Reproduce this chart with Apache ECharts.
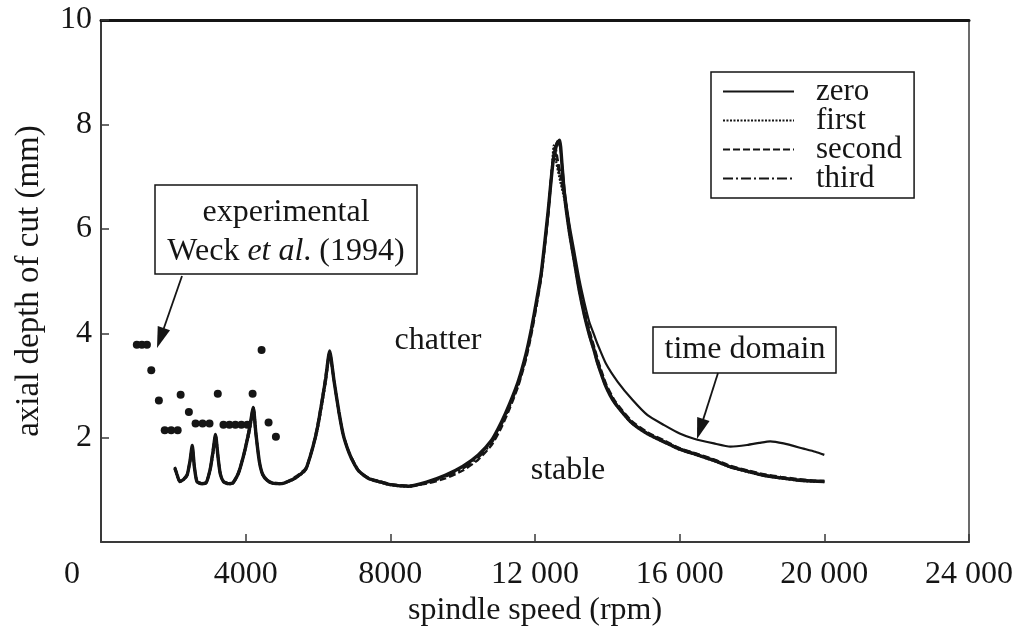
<!DOCTYPE html>
<html>
<head>
<meta charset="utf-8">
<script src="https://cdn.jsdelivr.net/npm/echarts@6/dist/echarts.min.js"></script>
<style>
html,body{margin:0;padding:0;background:#fff;}
#chart{width:1016px;height:632px;}
</style>
</head>
<body>
<div id="chart"></div>
<script>
// ---------- data ----------
var xTicks = [0, 4000, 8000, 12000, 16000, 20000, 24000];
var yTicks = [0, 2, 4, 6, 8, 10];
var seriesNames = ['zero', 'first', 'second', 'third'];

var zeroOrder = [
  [2040,1.42],[2100,1.30],[2175,1.16],[2280,1.20],[2380,1.28],[2460,1.55],[2523,1.85],[2580,1.45],[2652,1.16],
  [2780,1.12],[2909,1.14],[3020,1.40],[3100,1.75],[3165,2.06],[3240,1.60],[3300,1.30],[3386,1.16],[3520,1.12],
  [3643,1.13],[3800,1.32],[3950,1.68],[4100,2.15],[4211,2.58],[4280,2.10],[4377,1.55],[4468,1.30],[4600,1.18],
  [4744,1.13],[5000,1.12],[5202,1.17],[5400,1.24],[5662,1.40],[5850,1.80],[5982,2.18],[6100,2.65],[6212,3.13],
  [6322,3.66],[6441,3.10],[6579,2.49],[6700,2.05],[6854,1.72],[7000,1.50],[7129,1.36],[7400,1.22],[7680,1.16],
  [8000,1.10],[8505,1.07],[9000,1.15],[9516,1.28],[10000,1.45],[10432,1.67],[10800,1.95],[11074,2.30],[11300,2.65],
  [11533,3.07],[11750,3.60],[11900,4.08],[12050,4.65],[12175,5.17],[12359,6.31],[12497,7.27],[12600,7.62],[12680,7.70],
  [12750,7.20],[12818,6.63],[12950,5.95],[13093,5.36],[13230,4.80],[13369,4.34],[13500,3.98],[13644,3.65],[13736,3.42],
  [13950,3.00],[14195,2.68],[14653,2.30],[15100,2.08],[15571,1.92],[16000,1.78],[16488,1.67],[17000,1.55],[17405,1.44],
  [17900,1.35],[18323,1.28],[18800,1.23],[19240,1.19],[19650,1.17],[20000,1.16]
];
var firstOrder = [
  [2040,1.40],[2100,1.28],[2175,1.15],[2280,1.19],[2380,1.27],[2460,1.52],[2530,1.80],[2590,1.42],[2660,1.15],
  [2780,1.11],[2909,1.13],[3020,1.38],[3110,1.72],[3175,2.02],[3250,1.58],[3310,1.28],[3390,1.15],[3520,1.11],
  [3643,1.12],[3800,1.30],[3950,1.65],[4110,2.12],[4225,2.55],[4290,2.06],[4385,1.52],[4475,1.28],[4600,1.17],
  [4744,1.12],[5000,1.11],[5202,1.16],[5400,1.23],[5662,1.38],[5850,1.78],[5990,2.16],[6110,2.62],[6222,3.10],
  [6330,3.62],[6450,3.06],[6585,2.46],[6705,2.03],[6860,1.70],[7000,1.49],[7129,1.35],[7400,1.21],[7680,1.15],
  [8000,1.09],[8505,1.06],[9000,1.14],[9516,1.27],[10000,1.44],[10432,1.66],[10800,1.94],[11074,2.28],[11300,2.63],
  [11533,3.05],[11750,3.58],[11900,4.05],[12050,4.62],[12175,5.14],[12359,6.28],[12460,7.10],[12520,7.60],[12580,7.30],
  [12700,6.90],[12818,6.55],[12950,5.90],[13093,5.32],[13230,4.78],[13369,4.32],[13500,3.96],[13644,3.63],[13736,3.40],
  [13950,2.99],[14195,2.67],[14653,2.29],[15100,2.07],[15571,1.91],[16000,1.77],[16488,1.66],[17000,1.54],[17405,1.43],
  [17900,1.34],[18323,1.27],[18800,1.22],[19240,1.18],[19650,1.16],[20000,1.15]
];
var secondOrder = [
  [2040,1.44],[2100,1.31],[2175,1.17],[2280,1.21],[2380,1.30],[2460,1.57],[2520,1.82],[2575,1.46],[2645,1.17],
  [2780,1.13],[2909,1.15],[3020,1.42],[3095,1.77],[3160,2.04],[3235,1.62],[3295,1.31],[3380,1.17],[3520,1.13],
  [3643,1.14],[3800,1.34],[3950,1.70],[4095,2.17],[4200,2.55],[4270,2.12],[4370,1.57],[4460,1.31],[4600,1.19],
  [4744,1.14],[5000,1.13],[5202,1.18],[5400,1.26],[5662,1.42],[5850,1.82],[5975,2.20],[6095,2.67],[6205,3.15],
  [6315,3.62],[6435,3.12],[6572,2.51],[6695,2.07],[6848,1.74],[7000,1.52],[7129,1.37],[7400,1.23],[7680,1.17],
  [8000,1.11],[8505,1.08],[9000,1.12],[9516,1.22],[10000,1.37],[10432,1.58],[10800,1.86],[11074,2.20],[11300,2.56],
  [11533,2.98],[11750,3.50],[11900,3.98],[12050,4.55],[12175,5.08],[12359,6.22],[12480,7.20],[12560,7.58],[12620,7.35],
  [12720,7.00],[12840,6.55],[12980,5.90],[13120,5.33],[13260,4.80],[13400,4.35],[13530,3.99],[13670,3.66],[13760,3.44],
  [13970,3.02],[14215,2.70],[14670,2.32],[15120,2.10],[15590,1.94],[16000,1.80],[16488,1.69],[17000,1.57],[17405,1.46],
  [17900,1.37],[18323,1.30],[18800,1.25],[19240,1.21],[19650,1.18],[20000,1.17]
];
var thirdOrder = [
  [2040,1.41],[2100,1.29],[2175,1.16],[2280,1.20],[2380,1.28],[2460,1.54],[2525,1.84],[2585,1.44],[2655,1.16],
  [2780,1.12],[2909,1.14],[3020,1.39],[3105,1.74],[3170,2.05],[3245,1.59],[3305,1.29],[3388,1.16],[3520,1.12],
  [3643,1.13],[3800,1.31],[3950,1.67],[4105,2.14],[4218,2.57],[4285,2.08],[4380,1.54],[4470,1.29],[4600,1.18],
  [4744,1.13],[5000,1.12],[5202,1.17],[5400,1.24],[5662,1.39],[5850,1.79],[5985,2.17],[6105,2.64],[6217,3.12],
  [6326,3.64],[6445,3.08],[6582,2.47],[6702,2.04],[6857,1.71],[7000,1.50],[7129,1.36],[7400,1.22],[7680,1.16],
  [8000,1.10],[8505,1.07],[9000,1.13],[9516,1.25],[10000,1.41],[10432,1.62],[10800,1.90],[11074,2.25],[11300,2.60],
  [11533,3.02],[11750,3.55],[11900,4.03],[12050,4.60],[12175,5.12],[12359,6.26],[12470,7.15],[12540,7.55],[12600,7.32],
  [12710,6.95],[12830,6.58],[12965,5.92],[13105,5.34],[13245,4.79],[13385,4.33],[13515,3.97],[13657,3.64],[13748,3.42],
  [13960,3.00],[14205,2.68],[14660,2.30],[15110,2.08],[15580,1.92],[16000,1.79],[16488,1.67],[17000,1.55],[17405,1.44],
  [17900,1.35],[18323,1.28],[18800,1.23],[19240,1.19],[19650,1.17],[20000,1.16]
];
var timeDomain = [
  [11533,3.00],[11750,3.55],[11900,4.05],[12175,5.15],[12359,6.30],[12500,7.30],[12620,7.68],[12700,7.55],
  [12818,6.75],[12950,6.10],[13093,5.55],[13230,5.02],[13369,4.58],[13500,4.22],[13644,3.95],[13736,3.78],
  [13960,3.42],[14286,3.07],[14700,2.72],[15112,2.43],[15571,2.24],[16000,2.08],[16397,1.98],[16947,1.89],
  [17405,1.83],[17864,1.86],[18200,1.90],[18506,1.93],[18873,1.89],[19424,1.79],[19750,1.73],[20000,1.67]
];
var experimental = [
  [990,3.78],[1130,3.78],[1270,3.78],[1390,3.29],[1600,2.71],[1762,2.14],[1940,2.14],[2120,2.14],[2202,2.82],
  [2430,2.49],[2615,2.27],[2808,2.27],[3000,2.27],[3229,2.84],[3386,2.25],[3551,2.25],[3716,2.25],[3881,2.25],
  [4046,2.25],[4192,2.84],[4440,3.68],[4633,2.29],[4836,2.02]
];

// ---------- chart ----------
var FONT = 'Liberation Serif';
var INK = '#151515';
var chart = echarts.init(document.getElementById('chart'));

function fmtX(v) {
  if (v === 0) return '{z|0}';
  if (v >= 10000) { var s = String(v); return s.slice(0, s.length - 3) + ' ' + s.slice(-3); }
  return String(v);
}

function lineSeries(name, data, width, type) {
  return {
    name: name, type: 'line', data: data, showSymbol: false, symbol: 'none',
    smooth: 0.2, clip: true, z: 3,
    lineStyle: { color: INK, width: width, type: type },
    itemStyle: { color: INK }
  };
}

function arrow(x1, y1, x2, y2, L, w) {
  var dx = x2 - x1, dy = y2 - y1, len = Math.sqrt(dx * dx + dy * dy);
  var ux = dx / len, uy = dy / len, nx = -uy, ny = ux;
  var bx = x2 - ux * L, by = y2 - uy * L;
  return [
    { type: 'line', shape: { x1: x1, y1: y1, x2: bx + ux * 2, y2: by + uy * 2 }, style: { stroke: INK, lineWidth: 1.8 }, z: 10 },
    { type: 'polygon', shape: { points: [[x2, y2], [bx + nx * w, by + ny * w], [bx - nx * w, by - ny * w]] }, style: { fill: INK }, z: 10 }
  ];
}

var txt = { fontFamily: FONT, fontSize: 32, fill: INK, align: 'center', verticalAlign: 'middle' };
function T(x, y, s, extra) { var st = Object.assign({ x: x, y: y, text: s }, txt, extra || {}); return { type: 'text', style: st, z: 11 }; }

var graphics = [
  { type: 'rect', shape: { x: 155, y: 185, width: 262, height: 89 }, style: { fill: '#fff', stroke: INK, lineWidth: 1.5 }, z: 9 },
  T(286, 213, 'experimental'),
  { type: 'text', z: 11, style: { x: 286, y: 252, text: '{n|Weck }{i|et al}{n|. (1994)}', align: 'center', verticalAlign: 'middle',
      rich: { n: { fontFamily: FONT, fontSize: 32, fill: INK }, i: { fontFamily: FONT, fontSize: 32, fontStyle: 'italic', fill: INK } } } },
  { type: 'rect', shape: { x: 653, y: 327, width: 183, height: 46 }, style: { fill: '#fff', stroke: INK, lineWidth: 1.5 }, z: 9 },
  T(745, 350, 'time domain'),
  T(438, 341, 'chatter'),
  T(568, 471, 'stable')
].concat(arrow(182, 276, 157, 348, 21, 6.5)).concat(arrow(718, 373, 697, 439, 21, 6.5));

var option = {
  backgroundColor: '#fff',
  animation: false,
  grid: { left: 101, right: 43, top: 20, bottom: 88, containLabel: false },
  legend: {
    data: seriesNames, orient: 'vertical', left: 711, top: 72,
    backgroundColor: '#fff', borderColor: INK, borderWidth: 1.5, padding: [4, 12, 4, 11],
    itemWidth: 71, itemHeight: 2, itemGap: -2,
    itemStyle: { color: 'rgba(0,0,0,0)', borderColor: 'rgba(0,0,0,0)', borderWidth: 0, opacity: 0 },
    textStyle: { fontFamily: FONT, fontSize: 31, color: INK, lineHeight: 29, padding: [0, 0, 0, 17] }
  },
  xAxis: [{
    type: 'value', min: xTicks[0], max: xTicks[xTicks.length - 1], interval: xTicks[1] - xTicks[0],
    name: 'spindle speed (rpm)', nameLocation: 'middle', nameGap: 48,
    nameTextStyle: { fontFamily: FONT, fontSize: 32, color: INK },
    axisLine: { show: true, onZero: false, lineStyle: { color: '#3a3a3a', width: 2 } },
    axisTick: { show: true, inside: true, length: 8, lineStyle: { color: '#3a3a3a', width: 1.5 } },
    axisLabel: { fontFamily: FONT, fontSize: 32, color: INK, margin: 16, formatter: fmtX,
      rich: { z: { fontFamily: FONT, fontSize: 32, color: INK, padding: [0, 58, 0, 0] } } },
    splitLine: { show: false }
  }, {
    type: 'value', position: 'top', min: xTicks[0], max: xTicks[xTicks.length - 1],
    axisLine: { show: true, onZero: false, lineStyle: { color: INK, width: 3 } },
    axisTick: { show: false }, axisLabel: { show: false }, splitLine: { show: false }
  }],
  yAxis: [{
    type: 'value', min: yTicks[0], max: yTicks[yTicks.length - 1], interval: yTicks[1] - yTicks[0],
    name: 'axial depth of cut (mm)', nameLocation: 'middle', nameGap: 55,
    nameTextStyle: { fontFamily: FONT, fontSize: 33, color: INK },
    axisLine: { show: true, onZero: false, lineStyle: { color: '#3a3a3a', width: 2 } },
    axisTick: { show: true, inside: true, length: 8, lineStyle: { color: '#3a3a3a', width: 1.5 } },
    axisLabel: { fontFamily: FONT, fontSize: 32, color: INK, margin: 9, showMinLabel: false },
    splitLine: { show: false }
  }, {
    type: 'value', position: 'right', min: yTicks[0], max: yTicks[yTicks.length - 1],
    axisLine: { show: true, onZero: false, lineStyle: { color: '#3a3a3a', width: 1.5 } },
    axisTick: { show: false }, axisLabel: { show: false }, splitLine: { show: false }
  }],
  series: [
    lineSeries('zero', zeroOrder, 3.4, 'solid'),
    lineSeries('first', firstOrder, 2.2, [2, 1.5]),
    lineSeries('second', secondOrder, 2.4, [7, 3]),
    lineSeries('third', thirdOrder, 2.4, [10, 3, 2, 3]),
    { name: 'time domain', type: 'line', data: timeDomain, showSymbol: false, symbol: 'none', smooth: 0.2, z: 3,
      lineStyle: { color: INK, width: 2.2 } },
    { name: 'experimental', type: 'scatter', data: experimental, symbol: 'circle', symbolSize: 8,
      itemStyle: { color: INK, opacity: 1 }, z: 4 }
  ],
  graphic: graphics
};
chart.setOption(option);
</script>
</body>
</html>
